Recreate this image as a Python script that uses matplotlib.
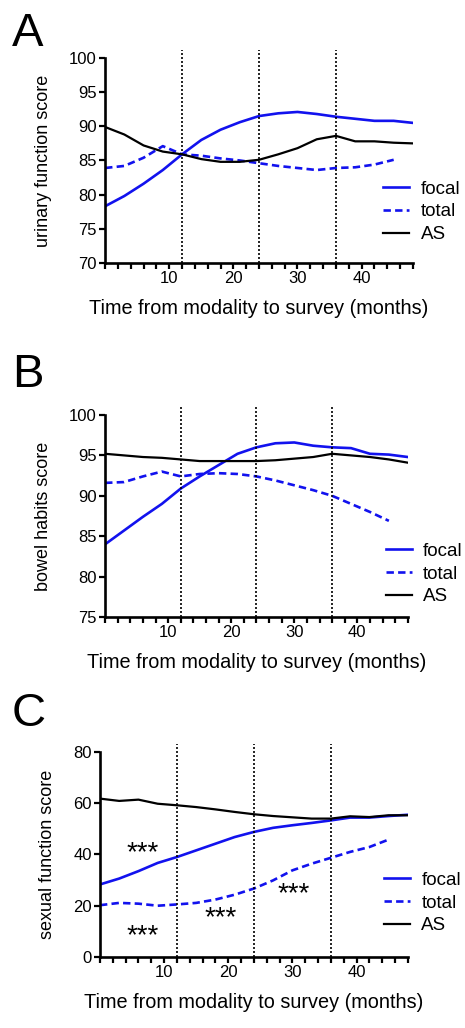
import matplotlib
matplotlib.use("Agg")
import matplotlib.pyplot as plt
import numpy as np

plt.rcParams['font.family'] = ['Liberation Sans', 'DejaVu Sans']

# months sampled for every curve
months = [0, 3, 6, 9, 12, 15, 18, 21, 24, 27, 30, 33, 36, 39, 42, 45, 48]
months_total = months[:-1]  # total series stops at 45 months

# panel A: urinary function
urin_focal = [78.3, 79.8, 81.6, 83.6, 85.9, 88.0, 89.5, 90.6, 91.5, 91.9, 92.1, 91.8, 91.4, 91.1, 90.8, 90.8, 90.5]
urin_total = [83.9, 84.2, 85.4, 87.1, 85.9, 85.7, 85.3, 85.0, 84.6, 84.2, 83.9, 83.6, 83.9, 84.0, 84.4, 85.1]
urin_as = [89.9, 88.8, 87.2, 86.3, 85.9, 85.2, 84.8, 84.8, 85.1, 85.9, 86.8, 88.1, 88.6, 87.8, 87.8, 87.6, 87.5]

# panel B: bowel habits
bowel_focal = [84.0, 85.7, 87.4, 89.0, 90.9, 92.4, 93.8, 95.2, 96.0, 96.5, 96.6, 96.2, 96.0, 95.9, 95.2, 95.1, 94.8]
bowel_total = [91.6, 91.7, 92.4, 93.0, 92.4, 92.7, 92.8, 92.7, 92.4, 91.9, 91.3, 90.7, 90.0, 89.0, 88.0, 86.9]
bowel_as = [95.2, 95.0, 94.8, 94.7, 94.5, 94.3, 94.3, 94.3, 94.3, 94.4, 94.6, 94.8, 95.2, 95.0, 94.8, 94.5, 94.1]

# panel C: sexual function
sex_focal = [28.3, 30.6, 33.5, 36.7, 39.0, 41.6, 44.2, 46.8, 48.8, 50.4, 51.4, 52.3, 53.3, 54.4, 54.4, 55.0, 55.5]
sex_total = [20.2, 21.1, 20.8, 20.0, 20.5, 21.1, 22.4, 24.3, 26.7, 29.9, 33.8, 36.4, 38.7, 41.0, 42.9, 45.8]
sex_as = [61.8, 60.9, 61.4, 59.8, 59.2, 58.5, 57.6, 56.6, 55.7, 55.0, 54.5, 54.0, 54.0, 54.9, 54.6, 55.3, 55.3]

# significance marks in panel C (month, score)
star_x = [6.7, 6.7, 18.8, 30.2]
star_y = [40.5, 8.0, 15.0, 24.3]

cutoffs = [12, 24, 36]
blue = '#1212ee'

panels = [
    dict(letter='A', ylabel='urinary function score', ylim=(70, 100), yticks=np.arange(70, 101, 5),
         focal=urin_focal, total=urin_total, AS=urin_as,
         rect=[0.226, 0.7442, 0.662, 0.1994], leg=(0.903, 0.249), letter_y=0.988),
    dict(letter='B', ylabel='bowel habits score', ylim=(75, 100), yticks=np.arange(75, 101, 5),
         focal=bowel_focal, total=bowel_total, AS=bowel_as,
         rect=[0.226, 0.3998, 0.651, 0.1965], leg=(0.927, 0.213), letter_y=0.657),
    dict(letter='C', ylabel='sexual function score', ylim=(0, 80), yticks=np.arange(0, 81, 20),
         focal=sex_focal, total=sex_total, AS=sex_as,
         rect=[0.215, 0.0691, 0.662, 0.1994], leg=(0.922, 0.263), letter_y=0.327),
]

fig = plt.figure(figsize=(4.65, 10.28), dpi=100)

for p in panels:
    ax = fig.add_axes(p['rect'])
    ax.plot(months, p['focal'], color=blue, lw=1.9, label='focal')
    ax.plot(months_total, p['total'], color=blue, lw=1.9, dashes=(2.8, 1.6), label='total')
    ax.plot(months, p['AS'], color='black', lw=1.6, label='AS')
    for c in cutoffs:
        ax.axvline(c, ymin=0, ymax=1.04, color='black', lw=1.2, ls=(0, (1.2, 1.2)), clip_on=False)

    ax.set_xlim(0, 48)
    ax.set_ylim(*p['ylim'])
    ax.set_xticks([10, 20, 30, 40])
    ax.set_xticks(np.arange(0, 49, 2), minor=True)
    ax.set_yticks(p['yticks'])
    for s in ['top', 'right']:
        ax.spines[s].set_visible(False)
    for s in ['left', 'bottom']:
        ax.spines[s].set_linewidth(1.9)
    ax.tick_params(which='both', direction='out', length=4, width=1.6, labelsize=12, pad=2)
    ax.set_xlabel('Time from modality to survey (months)', fontsize=14.3, labelpad=9)
    ax.set_ylabel(p['ylabel'], fontsize=13, labelpad=12)

    ax.legend(loc='center left', bbox_to_anchor=p['leg'], frameon=False, fontsize=13.5,
              handlelength=1.4, handletextpad=0.6, labelspacing=0.3, borderpad=0, borderaxespad=0)

    fig.text(0.025, p['letter_y'], p['letter'], fontsize=34, ha='left', va='top')

# stars for panel C
axc = fig.axes[-1]
for sx, sy in zip(star_x, star_y):
    axc.text(sx, sy, '***', fontsize=20, ha='center', va='center')

fig.savefig('out.png', dpi=100)
